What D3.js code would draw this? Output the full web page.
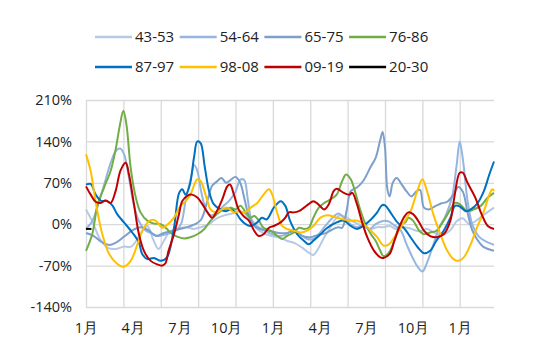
<!DOCTYPE html>
<html>
<head>
<meta charset="utf-8">
<script src="https://cdn.jsdelivr.net/npm/d3@7"></script>
<style>
  body { margin: 0; background: #fff; }
  text { font-family: "Open Sans", sans-serif; fill: #222; }
</style>
</head>
<body>
<div id="chart"></div>
<script>
// month index (0 = first 1月) and growth in %
var seriesNames = ["43-53", "54-64", "65-75", "76-86", "87-97", "98-08", "09-19", "20-30"];
var seriesColors = ["#b6c9e5", "#94b6e0", "#7d9fcb", "#70ad47", "#0070c0", "#ffc000", "#c00000", "#000000"];

var monthLabels = ["1月", "4月", "7月", "10月", "1月", "4月", "7月", "10月", "1月"];
var labelMonths = [0, 3, 6, 9, 12, 15, 18, 21, 24];
var gridMonths = [0, 2.4, 4.8, 7.2, 9.6, 12, 14.4, 16.8, 19.2, 21.6, 24];
var yTicks = [-140, -70, 0, 70, 140, 210];

var s4353 = [[0,25],[0.4,5],[0.9,-25],[1.4,-40],[1.9,-42],[2.4,-38],[2.9,-38],[3.3,-25],[3.7,-8],[3.95,-3],[4.3,-25],[4.65,-42],[5.0,-28],[5.4,-12],[5.9,-8],[6.4,-5],[6.9,-8],[7.4,-5],[7.9,0],[8.4,10],[8.9,15],[9.4,18],[9.9,22],[10.3,15],[10.7,0],[11.2,-12],[11.9,-20],[12.4,-22],[12.9,-28],[13.4,-32],[13.9,-40],[14.3,-48],[14.6,-52],[14.9,-42],[15.3,-22],[15.7,-5],[16.0,8],[16.3,15],[16.7,12],[17.1,5],[17.5,0],[17.9,-5],[18.3,-8],[18.7,-5],[19.1,-5],[19.5,-3],[19.9,-8],[20.4,-5],[20.9,-8],[21.4,-12],[21.9,-8],[22.4,-15],[22.9,-18],[23.4,-10],[23.8,5],[24.2,10],[24.6,0],[25.0,5],[25.5,15],[26.2,28]];
var s5464 = [[0,-8],[0.4,5],[0.8,35],[1.2,70],[1.6,105],[1.95,125],[2.2,128],[2.45,118],[2.75,80],[3.05,35],[3.4,5],[3.8,-10],[4.2,-15],[4.6,-20],[5.0,-18],[5.4,-15],[5.8,-10],[6.1,0],[6.4,40],[6.75,80],[6.95,100],[7.15,90],[7.4,55],[7.7,25],[8.0,15],[8.4,20],[8.8,30],[9.2,40],[9.6,55],[9.9,75],[10.15,75],[10.4,40],[10.6,10],[10.9,-2],[11.3,-8],[11.8,-15],[12.3,-20],[12.8,-18],[13.3,-10],[13.8,-18],[14.2,-25],[14.6,-25],[15.0,-15],[15.4,-2],[15.8,10],[16.2,18],[16.6,10],[17.0,0],[17.4,-5],[17.8,-2],[18.2,-8],[18.6,0],[19.0,5],[19.4,5],[19.8,-2],[20.2,-10],[20.6,-35],[21.0,-58],[21.3,-72],[21.6,-80],[21.9,-65],[22.3,-35],[22.7,-5],[23.1,15],[23.5,45],[23.8,100],[24.0,140],[24.2,110],[24.5,40],[24.8,0],[25.2,-20],[25.6,-28],[26.2,-35]];
var s6575 = [[0,-15],[0.5,-20],[1.0,-30],[1.5,-35],[2.0,-30],[2.5,-20],[3.0,-10],[3.5,-5],[4.0,-10],[4.5,-20],[5.0,-15],[5.5,-12],[6.0,-8],[6.5,-5],[7.0,0],[7.4,8],[7.8,40],[8.1,65],[8.4,72],[8.7,78],[9.0,70],[9.3,75],[9.6,80],[9.9,70],[10.2,40],[10.5,10],[10.9,-5],[11.4,-10],[11.9,-12],[12.4,-15],[12.9,-15],[13.4,-12],[13.9,-20],[14.4,-22],[14.9,-18],[15.4,-15],[15.9,-8],[16.2,-5],[16.45,-6],[16.75,25],[17.0,56],[17.4,62],[17.8,73],[18.3,98],[18.6,112],[18.9,143],[19.05,156],[19.2,130],[19.35,60],[19.5,47],[19.7,70],[19.95,78],[20.3,66],[20.6,55],[20.9,47],[21.2,55],[21.45,58],[21.7,28],[22.0,25],[22.4,30],[22.8,35],[23.2,38],[23.6,50],[23.9,63],[24.2,55],[24.5,20],[24.8,-10],[25.1,-25],[25.5,-38],[26.2,-45]];
var s7686 = [[0,-45],[0.4,-17],[0.73,31],[1.16,62],[1.58,90],[1.9,126],[2.18,168],[2.4,192],[2.6,168],[2.87,95],[3.2,45],[3.5,20],[3.94,6],[4.36,1],[4.8,0],[5.2,-8],[5.4,-14],[5.85,-21],[6.3,-24],[6.7,-22],[7.15,-17],[7.6,-8],[8.0,6],[8.4,17],[8.85,25],[9.3,28],[9.6,25],[9.93,31],[10.25,20],[10.57,11],[10.8,14],[11.1,6],[11.4,-6],[11.85,-11],[12.3,-20],[12.6,-25],[12.9,-20],[13.35,-14],[13.67,-6],[14,-8],[14.3,-6],[14.6,11],[14.95,28],[15.3,36],[15.7,42],[16.1,50],[16.45,73],[16.7,84],[17,76],[17.3,53],[17.6,25],[17.95,0],[18.3,-17],[18.6,-28],[18.9,-45],[19.1,-54],[19.45,-48],[19.8,-28],[20.2,0],[20.5,3],[20.7,11],[21,6],[21.4,-11],[21.7,-17],[22.1,-14],[22.5,-11],[22.97,6],[23.4,25],[23.7,36],[24.0,34],[24.5,22],[24.9,25],[25.35,31],[25.8,45],[26.2,53]];
var s8797 = [[0,67],[0.3,68],[0.62,50],[0.94,40],[1.37,39],[1.69,32],[2.0,17],[2.44,3],[2.97,-14],[3.4,-31],[3.6,-50],[3.94,-59],[4.36,-57],[4.8,-62],[5.2,-56],[5.65,-6],[5.97,52],[6.18,59],[6.4,50],[6.67,67],[6.93,112],[7.15,140],[7.36,137],[7.62,98],[7.9,56],[8.2,34],[8.64,25],[8.96,22],[9.3,25],[9.6,20],[9.93,8],[10.25,0],[10.57,-3],[11,3],[11.3,11],[11.6,8],[12.06,28],[12.5,39],[12.8,31],[13.1,6],[13.56,-17],[13.99,-28],[14.3,-34],[14.6,-28],[15.06,-17],[15.5,-6],[16.1,3],[16.56,6],[17,-3],[17.4,-8],[17.8,-3],[18.3,8],[18.7,20],[19.0,32],[19.2,32],[19.6,18],[20,3],[20.4,-6],[20.84,-22],[21.3,-39],[21.7,-49],[22.1,-45],[22.5,-28],[22.97,-11],[23.4,11],[23.7,31],[24.0,30],[24.4,22],[24.7,25],[25.1,34],[25.55,56],[25.9,84],[26.2,106]];
var s9808 = [[0,118],[0.3,90],[0.51,56],[0.73,22],[1.05,-17],[1.48,-50],[2.0,-67],[2.4,-72],[2.87,-62],[3.3,-34],[3.72,-6],[4.15,7],[4.47,6],[4.9,-6],[5.22,-1],[5.65,11],[6.07,31],[6.4,39],[6.7,50],[7.15,76],[7.36,73],[7.7,48],[8.0,25],[8.3,20],[8.75,25],[9.07,28],[9.5,20],[9.8,22],[10.2,20],[10.57,28],[11,36],[11.4,50],[11.75,59],[11.96,50],[12.3,17],[12.6,-3],[12.9,-8],[13.35,-11],[13.8,-14],[14.2,-11],[14.6,-3],[15.06,11],[15.5,15],[16.1,11],[16.56,8],[17,6],[17.4,6],[17.85,0],[18.3,-11],[18.7,-22],[19.1,-36],[19.45,-34],[19.8,-22],[20.2,-6],[20.84,22],[21.27,56],[21.6,76],[21.9,56],[22.3,17],[22.76,-17],[23.2,-45],[23.6,-59],[23.9,-62],[24.26,-56],[24.7,-34],[25.1,-6],[25.55,22],[25.9,50],[26.1,59],[26.2,56]];
var s0919 = [[0,64],[0.3,50],[0.62,38],[0.94,36],[1.26,40],[1.58,36],[1.9,56],[2.22,91],[2.55,104],[2.76,84],[3.08,34],[3.4,-17],[3.72,-45],[4.15,-62],[4.58,-68],[4.9,-70],[5.1,-66],[5.3,-45],[5.65,-17],[5.97,17],[6.18,39],[6.5,48],[6.8,50],[7.15,45],[7.47,34],[7.8,20],[8.1,11],[8.4,22],[8.75,42],[9.07,64],[9.25,67],[9.5,50],[9.8,25],[10.1,14],[10.46,6],[10.8,-11],[11.1,-20],[11.4,-17],[11.75,-6],[12.06,-3],[12.5,3],[12.8,11],[13.03,20],[13.35,20],[13.67,22],[14,28],[14.3,34],[14.6,39],[14.9,34],[15.3,25],[15.6,34],[15.9,56],[16.1,60],[16.56,53],[16.9,50],[17.1,53],[17.4,34],[17.7,6],[18.06,-22],[18.5,-45],[18.9,-56],[19.1,-57],[19.5,-50],[19.8,-28],[20.1,-6],[20.4,11],[20.7,20],[21.0,17],[21.4,3],[21.7,-11],[22.1,-20],[22.5,-22],[22.97,-17],[23.4,6],[23.65,45],[24.0,87],[24.2,87],[24.5,70],[25.0,45],[25.4,17],[25.8,-3],[26.2,-8]];
var s2030 = [[0,-8],[0.35,-8]];

var allSeries = [s4353, s5464, s6575, s7686, s8797, s9808, s0919, s2030];

var width = 550, height = 360;
var plotLeft = 86, plotRight = 494, plotTop = 100, plotBottom = 307;

var svg = d3.select('#chart').append('svg')
  .attr('width', width)
  .attr('height', height);

var x = d3.scaleLinear().domain([0, 26.2]).range([plotLeft, plotRight]);
var y = d3.scaleLinear().domain([-140, 210]).range([plotBottom, plotTop]);

// grid
svg.append('g')
  .attr('transform', 'translate(0,' + plotBottom + ')')
  .call(d3.axisBottom(x).tickValues(gridMonths).tickSize(-(plotBottom - plotTop)).tickFormat(''))
  .call(function(g) { g.select('.domain').remove(); })
  .selectAll('line').attr('stroke', '#d9d9d9').attr('stroke-width', 1.3);

svg.append('g')
  .attr('transform', 'translate(' + plotLeft + ',0)')
  .call(d3.axisLeft(y).tickValues(yTicks).tickSize(-(plotRight - plotLeft)).tickFormat(''))
  .call(function(g) { g.select('.domain').remove(); })
  .selectAll('line').attr('stroke', '#d9d9d9').attr('stroke-width', 1.3);

// axis labels
var xAxis = svg.append('g')
  .attr('transform', 'translate(0,' + plotBottom + ')')
  .call(d3.axisBottom(x).tickValues(labelMonths).tickSize(0).tickPadding(16)
    .tickFormat(function(d, i) { return monthLabels[i]; }));
xAxis.select('.domain').remove();
xAxis.selectAll('text').style('font-size', '14.5px').style('font-family', '"Open Sans", sans-serif').attr('fill', '#222');

var yAxis = svg.append('g')
  .attr('transform', 'translate(' + plotLeft + ',0)')
  .call(d3.axisLeft(y).tickValues(yTicks).tickSize(0).tickPadding(14)
    .tickFormat(function(d) { return d + '%'; }));
yAxis.select('.domain').remove();
yAxis.selectAll('text').style('font-size', '14.5px').style('font-family', '"Open Sans", sans-serif').attr('fill', '#222');

var line = d3.line()
  .x(function(d) { return x(d[0]); })
  .y(function(d) { return y(d[1]); })
  .curve(d3.curveCatmullRom.alpha(0.5));

svg.append('g').selectAll('path')
  .data(allSeries)
  .enter().append('path')
  .attr('d', line)
  .attr('fill', 'none')
  .attr('stroke', function(d, i) { return seriesColors[i]; })
  .attr('stroke-width', 2)
  .attr('stroke-linejoin', 'round');

// legend, 4 per row
var legend = svg.append('g').selectAll('g')
  .data(seriesNames)
  .enter().append('g')
  .attr('transform', function(d, i) {
    return 'translate(' + (95 + (i % 4) * 84.7) + ',' + (37 + Math.floor(i / 4) * 30) + ')';
  });

legend.append('line')
  .attr('x1', 0).attr('x2', 37)
  .attr('stroke', function(d, i) { return seriesColors[i]; })
  .attr('stroke-width', 2.5);

legend.append('text')
  .attr('x', 40)
  .attr('dy', '0.36em')
  .style('font-size', '15px')
  .text(function(d) { return d; });
</script>
</body>
</html>
